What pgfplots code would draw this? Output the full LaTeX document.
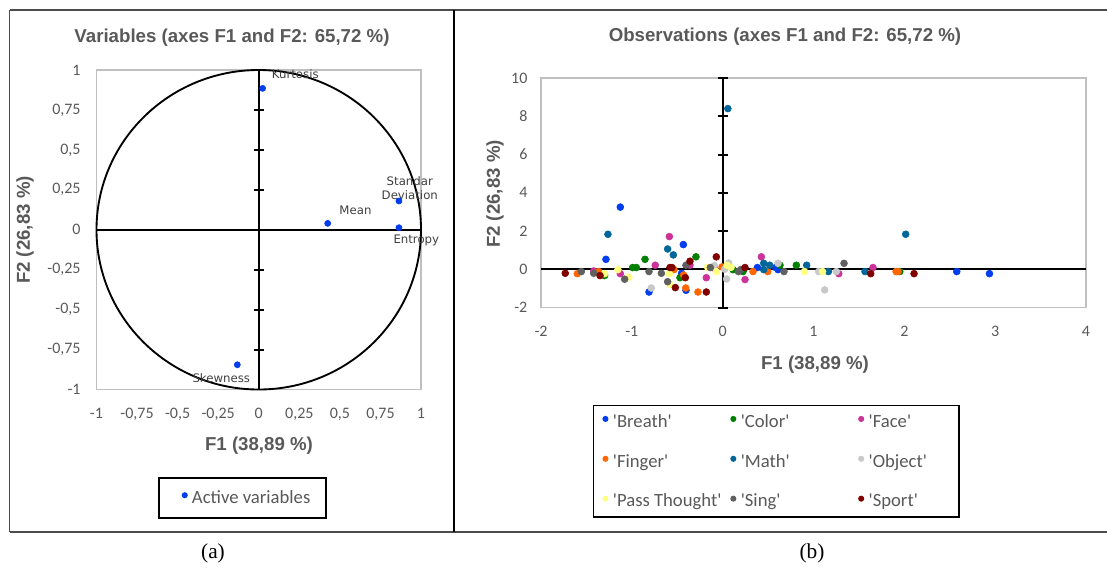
\documentclass[border=0pt]{standalone}
\usepackage{fontspec}
\usepackage{pgfplots}
\pgfplotsset{compat=1.18}
\setmainfont{Carlito}
\newfontfamily\arial{Liberation Sans}
\newfontfamily\dejavu{DejaVu Sans}
\newfontfamily\tnr{Liberation Serif}

\definecolor{txt}{RGB}{89,89,89}
\definecolor{lbl}{RGB}{64,64,64}
\definecolor{breath}{RGB}{0,60,240}
\definecolor{colorc}{RGB}{0,128,0}
\definecolor{face}{RGB}{204,51,153}
\definecolor{finger}{RGB}{255,102,0}
\definecolor{math}{RGB}{0,102,153}
\definecolor{object}{RGB}{200,200,200}
\definecolor{pass}{RGB}{255,255,128}
\definecolor{sing}{RGB}{96,96,96}
\definecolor{sport}{RGB}{128,0,0}

\newcommand\q{\textquotesingle}

\pgfplotsset{
  pca/.style={
    scale only axis, clip=false,
    axis line style={draw=black!25, line width=1.1pt},
    major tick length=0pt,
    tick label style={font=\fontsize{12}{14}\selectfont, text=txt},
    legend cell align=left,
  },
}

\begin{document}
\begin{tikzpicture}
\path[use as bounding box] (0,0) rectangle (830.25pt,-426pt);

% frames round the two panels
\draw[line width=0.8pt, black!70] (7.125pt,-7.5pt) -- (830.25pt,-7.5pt);
\draw[line width=0.8pt, black!70] (7.125pt,-399pt) -- (830.25pt,-399pt);
\draw[line width=0.8pt, black!70] (7.125pt,-7.5pt) -- (7.125pt,-399pt);
\draw[line width=1pt] (340.5pt,-7.5pt) -- (340.5pt,-399pt);

% (a) correlation circle
\begin{axis}[pca,
  at={(72.375pt,-292.125pt)}, anchor=south west,
  width=243.375pt, height=239.625pt,
  xmin=-1, xmax=1, ymin=-1, ymax=1,
  xtick={-1,-0.75,-0.5,-0.25,0,0.25,0.5,0.75,1},
  ytick={-1,-0.75,-0.5,-0.25,0,0.25,0.5,0.75,1},
  xticklabels={{-1},{-0,75},{-0,5},{-0,25},{0},{0,25},{0,5},{0,75},{1}},
  yticklabels={{-1},{-0,75},{-0,5},{-0,25},{0},{0,25},{0,5},{0,75},{1}},
  xticklabel shift=10.5pt, yticklabel shift=8.4pt,
  legend style={at={(0.1904,-0.2748)}, anchor=north west,
    draw=black, line width=1.1pt, font=\fontsize{14}{14}\selectfont, text=txt,
    inner xsep=6pt, inner ysep=7.25pt,
    /tikz/every odd column/.append style={column sep=1.7pt}},
  legend image code/.code={\path (0pt,0pt); \draw[#1, mark size=1.7pt] plot coordinates {(12.75pt,2pt)};},
]
\draw[line width=1.5pt] (axis cs:-1,0) -- (axis cs:1,0);
\draw[line width=1.5pt] (axis cs:0,-1) -- (axis cs:0,1);
\pgfplotsinvokeforeach{-0.75,-0.5,-0.25,0.25,0.5,0.75}{
  \draw[line width=1.5pt] (axis cs:0,#1) ++(-3.75pt,0pt) -- ++(7.5pt,0pt);
}
\draw[line width=1.4pt] (axis cs:0,0) ellipse [x radius=1, y radius=1];
\addplot[only marks, mark=*, mark size=2.3pt, color=breath] coordinates {
  (0.024,0.885) (0.425,0.040) (0.864,0.180) (0.864,0.013) (-0.132,-0.845)
};
\addlegendentry{\makebox[92.5pt][l]{Active variables\strut}}
\begin{scope}[font=\dejavu\fontsize{8.8}{10.5}\selectfont, text=lbl, inner sep=0pt]
\node[anchor=west] at (axis cs:0.080,0.975) {Kurtosis};
\node[anchor=west] at (axis cs:0.496,0.124) {Mean};
\node[align=center] at (axis cs:0.931,0.263) {Standar\\Deviation};
\node at (axis cs:0.971,-0.068) {Entropy};
\node at (axis cs:-0.231,-0.930) {Skewness};
\end{scope}
\end{axis}

% (b) observations
\begin{axis}[pca,
  at={(405.75pt,-230.625pt)}, anchor=south west,
  width=408.75pt, height=172.125pt,
  xmin=-2, xmax=4, ymin=-2, ymax=10,
  xtick={-2,-1,0,1,2,3,4}, ytick={-2,0,2,4,6,8,10},
  xticklabels={{-2},{-1},{0},{1},{2},{3},{4}},
  yticklabels={{-2},{0},{2},{4},{6},{8},{10}},
  xticklabel shift=10.4pt, yticklabel shift=6.7pt,
  legend columns=3,
  legend style={at={(0.0954,-0.4248)}, anchor=north west,
    draw=black, line width=1.1pt, font=\fontsize{14}{14}\selectfont, text=txt,
    inner xsep=6pt, inner ysep=4.25pt, row sep=14.6pt,
    /tikz/every odd column/.append style={column sep=1.9pt},
    /tikz/every even column/.append style={column sep=0pt}},
  legend image code/.code={\path (0pt,0pt); \draw[#1, mark size=1.7pt] plot coordinates {(2.25pt,2pt)};},
]
\draw[line width=1.5pt] (axis cs:-2,0) -- (axis cs:4,0);
\draw[line width=1.5pt] (axis cs:0,-2) -- (axis cs:0,10);
\pgfplotsinvokeforeach{-2,2,4,6,8,10}{
  \draw[line width=1.5pt] (axis cs:0,#1) ++(-3.75pt,0pt) -- ++(7.5pt,0pt);
}
\addplot[only marks, mark=*, mark size=2.6pt, color=breath] coordinates {
  (-1.127,3.25) (-1.285,0.52) (-0.811,-1.19) (-0.433,1.29) (-0.452,-0.21)
  (-0.404,-1.10) (0.382,0.09) (0.584,0.09) (0.609,-0.02) (2.577,-0.12) (2.937,-0.23)
};
\addlegendentry{\makebox[85.5pt][l]{\q Breath\q\strut}}
\addplot[only marks, mark=*, mark size=2.6pt, color=colorc] coordinates {
  (-1.30,-0.33) (-0.991,0.09) (-0.951,0.09) (-0.855,0.52) (-0.47,-0.44)
  (-0.294,0.65) (0.114,-0.02) (0.224,-0.12) (0.631,0.21) (0.811,0.21) (1.95,-0.12)
};
\addlegendentry{\makebox[85.5pt][l]{\q Color\q\strut}}
\addplot[only marks, mark=*, mark size=2.6pt, color=face] coordinates {
  (-1.42,-0.09) (-1.127,-0.23) (-0.742,0.21) (-0.587,1.71) (-0.36,0.21)
  (-0.18,-0.44) (-0.09,0.05) (0.246,-0.54) (0.426,0.65) (1.278,-0.23) (1.655,0.09)
};
\addlegendentry{\makebox[59.75pt][l]{\q Face\q\strut}}
\addplot[only marks, mark=*, mark size=2.6pt, color=finger] coordinates {
  (-1.60,-0.23) (-1.365,-0.12) (-0.536,-0.02) (-0.407,-0.98) (-0.43,-0.30)
  (-0.272,-1.19) (-0.007,0.12) (0.334,-0.12) (0.496,-0.12) (1.909,-0.12) (1.93,-0.12)
};
\addlegendentry{\makebox[85.5pt][l]{\q Finger\q\strut}}
\addplot[only marks, mark=*, mark size=2.6pt, color=math] coordinates {
  (-1.263,1.83) (-0.606,1.06) (-0.543,0.75) (0.057,8.40) (0.452,0.31)
  (0.452,-0.02) (0.518,0.21) (0.925,0.21) (1.164,-0.12) (1.567,-0.12) (2.015,1.83)
};
\addlegendentry{\makebox[85.5pt][l]{\q Math\q\strut}}
\addplot[only marks, mark=*, mark size=2.6pt, color=object] coordinates {
  (-0.786,-0.98) (-0.092,0.19) (0.022,0.00) (0.066,0.33) (0.044,-0.51)
  (0.609,0.31) (1.057,-0.12) (1.123,-1.08) (1.252,-0.12)
};
\addlegendentry{\makebox[59.75pt][l]{\q Object\q\strut}}
\addplot[only marks, mark=*, mark size=2.6pt, color=pass] coordinates {
  (-1.30,-0.23) (-1.153,-0.02) (-1.035,-0.42) (-0.587,-0.23) (-0.58,-0.79)
  (-0.165,0.10) (-0.07,-0.12) (0.048,0.21) (0.092,0.10) (0.90,-0.12) (1.10,-0.12)
};
\addlegendentry{\makebox[85.5pt][l]{\q Pass Thought\q\strut}}
\addplot[only marks, mark=*, mark size=2.6pt, color=sing] coordinates {
  (-1.556,-0.12) (-1.42,-0.21) (-1.079,-0.52) (-0.811,-0.12) (-0.675,-0.21)
  (-0.606,-0.65) (-0.404,0.21) (-0.136,0.09) (0.173,-0.12) (0.198,-0.02)
  (0.675,-0.12) (1.336,0.31)
};
\addlegendentry{\makebox[85.5pt][l]{\q Sing\q\strut}}
\addplot[only marks, mark=*, mark size=2.6pt, color=sport] coordinates {
  (-1.733,-0.21) (-1.35,-0.33) (-0.58,0.09) (-0.558,0.09) (-0.521,-0.96)
  (-0.411,-0.44) (-0.36,0.42) (-0.18,-1.19) (-0.07,0.65) (0.246,0.09)
  (1.63,-0.23) (2.107,-0.23)
};
\addlegendentry{\makebox[59.75pt][l]{\q Sport\q\strut}}
\end{axis}

% titles, axis labels and captions
\begin{scope}[text=txt]
\node[font=\arial\bfseries\fontsize{14}{16}\selectfont] at (174pt,-28.5pt) {Variables (axes F1 and F2: 65,72 \%)};
\node[font=\arial\bfseries\fontsize{14}{16}\selectfont] at (588.75pt,-27.75pt) {Observations (axes F1 and F2: 65,72 \%)};
\node[font=\arial\bfseries\fontsize{14}{16}\selectfont] at (194.25pt,-334.5pt) {F1 (38,89 \%)};
\node[font=\arial\bfseries\fontsize{14}{16}\selectfont] at (611.25pt,-273.75pt) {F1 (38,89 \%)};
\node[font=\arial\bfseries\fontsize{14}{16}\selectfont, rotate=90] at (18.75pt,-172.5pt) {F2 (26,83 \%)};
\node[font=\arial\bfseries\fontsize{14}{16}\selectfont, rotate=90] at (371.25pt,-145.5pt) {F2 (26,83 \%)};
\end{scope}
\node[font=\tnr\fontsize{16}{18}\selectfont] at (159.75pt,-414.75pt) {(a)};
\node[font=\tnr\fontsize{16}{18}\selectfont] at (609pt,-414.75pt) {(b)};
\end{tikzpicture}
\end{document}
